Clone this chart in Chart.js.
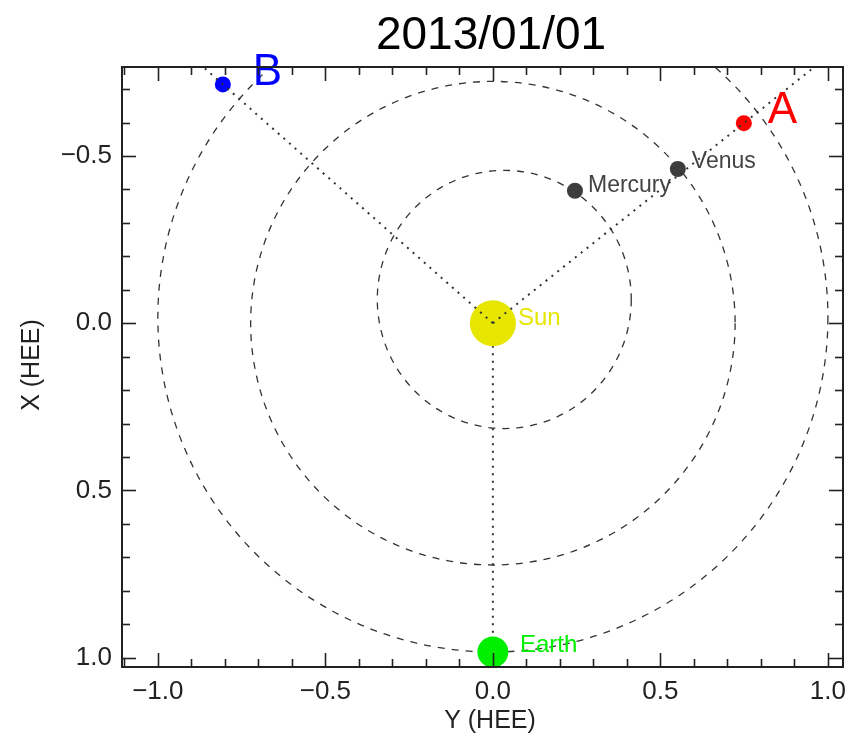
<!DOCTYPE html>
<html>
<head>
<meta charset="utf-8">
<script src="https://cdn.jsdelivr.net/npm/chart.js@4/dist/chart.umd.min.js"></script>
<style>
  html, body { margin: 0; padding: 0; background: #ffffff; }
  #wrap { width: 848px; height: 736px; }
</style>
</head>
<body>
<div id="wrap"><canvas id="c" width="848" height="736"></canvas></div>
<script>
// Date of the snapshot
const dateLabel = '2013/01/01';

// Body positions in Heliocentric Earth Ecliptic coordinates (AU)
const bodyNames  = ['Sun', 'Mercury', 'Venus', 'Earth', 'A', 'B'];
const bodyHeeY   = [0.000, 0.245, 0.552, 0.000, 0.749, -0.806];   // horizontal axis
const bodyHeeX   = [0.000, -0.396, -0.461, 0.983, -0.598, -0.714]; // vertical axis (down = +X)
const bodyColors = ['#e6e600', '#3d3d3d', '#3d3d3d', '#00ee00', '#ff0000', '#0000ff'];
const bodyRadii  = [23, 8, 8, 15.5, 8, 8];

// Planet orbits (ellipses): centre and semi-axes in AU
const orbitNames   = ['Mercury', 'Venus', 'Earth'];
const orbitCenterY = [0.034, 0.000, 0.000];
const orbitCenterX = [-0.071, 0.000, -0.017];
const orbitRadiusY = [0.379, 0.723, 1.000];
const orbitRadiusX = [0.386, 0.723, 1.000];

// Axis ticks
const xTickLabels = [-1.0, -0.5, 0.0, 0.5, 1.0];
const yTickLabels = [-0.5, 0.0, 0.5, 1.0];
const xMinorTicks = [-1.1, -0.9, -0.8, -0.7, -0.6, -0.4, -0.3, -0.2, -0.1, 0.1, 0.2, 0.3, 0.4, 0.6, 0.7, 0.8, 0.9];
const yMinorTicks = [-0.7, -0.6, -0.4, -0.3, -0.2, -0.1, 0.1, 0.2, 0.3, 0.4, 0.6, 0.7, 0.8, 0.9];

const FONT = "'Liberation Sans', Arial, sans-serif";
const INK = '#222222';

const fmt = v => (v < 0 ? '\u2212' : '') + Math.abs(v).toFixed(1);
const pt = i => ({ x: bodyHeeY[i], y: bodyHeeX[i] });
// ray from the Sun through a body, long enough to leave the plot (clipped)
const ray = i => [{ x: 0, y: 0 }, { x: bodyHeeY[i] * 2, y: bodyHeeX[i] * 2 }];

const dotted = {
  type: 'line', showLine: true, borderColor: '#333333', borderWidth: 2,
  borderDash: [2, 5.5], pointRadius: 0, fill: false, tension: 0
};

const labelStyle = {
  // [dx, dy (baseline), font size]
  Sun: [25, 1.5, 24], Mercury: [13, 1, 23], Venus: [14, -1, 23],
  Earth: [27, 0, 24], A: [24, 0, 44], B: [30, 1, 44]
};

const decorations = {
  id: 'decorations',
  beforeDatasetsDraw(chart) {
    const { ctx, chartArea: a, scales: { x, y } } = chart;
    ctx.save();
    ctx.beginPath();
    ctx.rect(a.left, a.top, a.right - a.left, a.bottom - a.top);
    ctx.clip();
    ctx.strokeStyle = '#333333';
    ctx.lineWidth = 1.3;
    ctx.setLineDash([7, 7]);
    orbitNames.forEach((n, i) => {
      const cx = x.getPixelForValue(orbitCenterY[i]);
      const cy = y.getPixelForValue(orbitCenterX[i]);
      const rx = Math.abs(x.getPixelForValue(orbitCenterY[i] + orbitRadiusY[i]) - cx);
      const ry = Math.abs(y.getPixelForValue(orbitCenterX[i] + orbitRadiusX[i]) - cy);
      ctx.beginPath();
      ctx.ellipse(cx, cy, rx, ry, 0, 0, Math.PI * 2);
      ctx.stroke();
    });
    ctx.restore();
  },
  afterDatasetsDraw(chart) {
    const { ctx, scales: { x, y } } = chart;
    ctx.save();
    ctx.textAlign = 'left';
    ctx.textBaseline = 'alphabetic';
    bodyNames.forEach((n, i) => {
      const [dx, dy, fs] = labelStyle[n];
      ctx.font = fs + 'px ' + FONT;
      ctx.fillStyle = bodyColors[i] === '#3d3d3d' ? '#444444' : bodyColors[i];
      ctx.fillText(n, x.getPixelForValue(bodyHeeY[i]) + dx, y.getPixelForValue(bodyHeeX[i]) + dy);
    });
    ctx.restore();
  },
  afterDraw(chart) {
    const { ctx, chartArea: a, scales: { x, y } } = chart;
    ctx.save();
    ctx.strokeStyle = INK;
    ctx.lineWidth = 2;
    ctx.setLineDash([]);
    ctx.strokeRect(a.left, a.top, a.right - a.left, a.bottom - a.top);
    ctx.lineWidth = 1.6;
    const tick = (x1, y1, x2, y2) => { ctx.beginPath(); ctx.moveTo(x1, y1); ctx.lineTo(x2, y2); ctx.stroke(); };
    const doX = (vals, len) => vals.forEach(v => {
      const px = Math.round(x.getPixelForValue(v)) + 0.5;
      tick(px, a.bottom, px, a.bottom - len);
      tick(px, a.top, px, a.top + len);
    });
    const doY = (vals, len) => vals.forEach(v => {
      const py = Math.round(y.getPixelForValue(v)) + 0.5;
      tick(a.left, py, a.left + len, py);
      tick(a.right, py, a.right - len, py);
    });
    doX(xTickLabels, 14); doX(xMinorTicks, 8);
    doY(yTickLabels, 14); doY(yMinorTicks, 8);

    // bottom axis tick labels
    ctx.fillStyle = INK;
    ctx.textAlign = 'center';
    ctx.textBaseline = 'middle';
    ctx.font = '26px ' + FONT;
    xTickLabels.forEach(v => ctx.fillText(fmt(v), x.getPixelForValue(v), a.bottom + 25));

    // titles
    ctx.fillStyle = '#000000';
    ctx.textBaseline = 'alphabetic';
    ctx.font = '46px ' + FONT;
    ctx.fillText(dateLabel, 491, 49);
    ctx.fillStyle = INK;
    ctx.font = '25px ' + FONT;
    ctx.fillText('Y (HEE)', 490, 728);
    ctx.save();
    ctx.translate(39, 365);
    ctx.rotate(-Math.PI / 2);
    ctx.fillText('X (HEE)', 0, 0);
    ctx.restore();
    ctx.restore();
  }
};

new Chart(document.getElementById('c'), {
  type: 'scatter',
  data: {
    datasets: [
      Object.assign({}, dotted, { label: 'Sun-Earth', data: [pt(0), pt(3)], order: 3 }),
      {
        label: 'Bodies', data: bodyNames.map((n, i) => pt(i)),
        pointRadius: bodyRadii, pointHoverRadius: bodyRadii,
        pointBackgroundColor: bodyColors, pointBorderWidth: 0,
        pointBorderColor: bodyColors, order: 2
      },
      Object.assign({}, dotted, { label: 'Sun-A', data: ray(4), order: 1 }),
      Object.assign({}, dotted, { label: 'Sun-B', data: ray(5), order: 1 })
    ]
  },
  options: {
    responsive: false,
    devicePixelRatio: 1,
    animation: false,
    layout: { autoPadding: false, padding: { top: 67, right: 5, left: 0, bottom: 0 } },
    plugins: { legend: { display: false }, tooltip: { enabled: false }, title: { display: false } },
    scales: {
      x: {
        type: 'linear', position: 'bottom', min: -1.107, max: 1.045,
        grid: { display: false, drawTicks: false },
        border: { display: false },
        afterBuildTicks: s => { s.ticks = xTickLabels.map(v => ({ value: v })); },
        afterFit: s => { s.height = 69; },
        ticks: { display: false }
      },
      y: {
        type: 'linear', position: 'left', min: -0.766, max: 1.028, reverse: true,
        grid: { display: false, drawTicks: false },
        border: { display: false },
        afterBuildTicks: s => { s.ticks = yTickLabels.map(v => ({ value: v })); },
        afterFit: s => { s.width = 122; },
        ticks: {
          autoSkip: false, padding: 10, color: INK,
          font: { family: FONT, size: 26 }, callback: v => fmt(v)
        }
      }
    }
  },
  plugins: [decorations]
});
</script>
</body>
</html>
